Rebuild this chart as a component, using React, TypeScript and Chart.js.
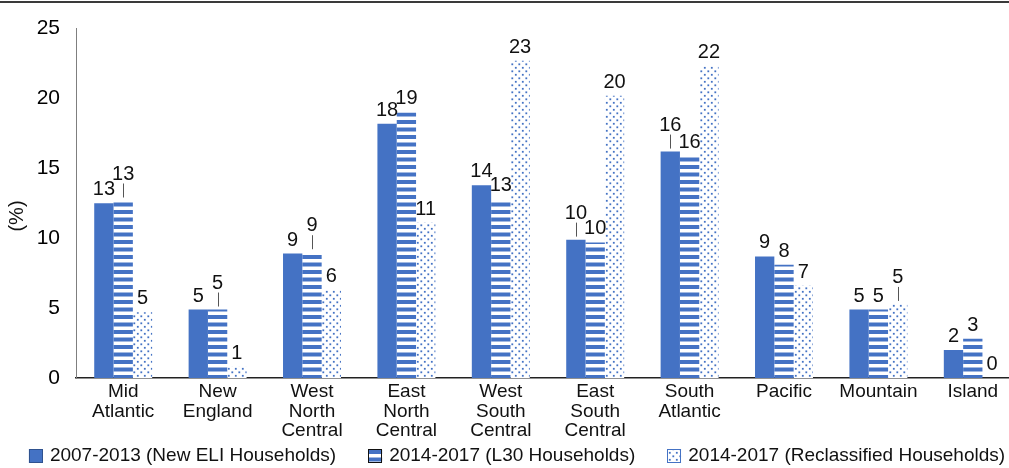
import React, { useEffect, useRef } from "react";
import { Chart, registerables } from "chart.js";

Chart.register(...registerables);

const categories: string[][] = [
  ["Mid", "Atlantic"],
  ["New", "England"],
  ["West", "North", "Central"],
  ["East", "North", "Central"],
  ["West", "South", "Central"],
  ["East", "South", "Central"],
  ["South", "Atlantic"],
  ["Pacific"],
  ["Mountain"],
  ["Island"],
];
const seriesNames = [
  "2007-2013 (New ELI Households)",
  "2014-2017 (L30 Households)",
  "2014-2017 (Reclassified Households)",
];
const eliValues = [12.5, 4.9, 8.9, 18.2, 13.8, 9.9, 16.2, 8.7, 4.9, 2.0];
const l30Values = [12.7, 4.9, 9.0, 19.0, 12.8, 9.7, 15.9, 8.1, 4.9, 2.8];
const reclassValues = [4.7, 0.8, 6.3, 11.1, 22.7, 20.2, 22.3, 6.6, 5.3, 0];
const yTicks = [0, 5, 10, 15, 20, 25];
// labels lifted with a short leader line: [categoryIndex, seriesIndex]
const leaderLabels = [
  [0, 1],
  [1, 1],
  [2, 1],
  [5, 0],
  [6, 0],
  [8, 2],
];

const FONT = "'Liberation Sans', Arial, Helvetica, sans-serif";
const BLUE = "#4472C4";
const TEXT = "#111111";
const LEGEND_STROKE = ["#2F528F", "#111111", BLUE];

function stripePattern(): CanvasPattern | string {
  const c = document.createElement("canvas");
  c.width = 4;
  c.height = 15;
  const g = c.getContext("2d");
  if (!g) return BLUE;
  g.fillStyle = "#ffffff";
  g.fillRect(0, 0, 4, 15);
  g.fillStyle = BLUE;
  g.fillRect(0, 0, 4, 4);
  g.fillRect(0, 7.5, 4, 4);
  return g.createPattern(c, "repeat") || BLUE;
}

function dotPattern(): CanvasPattern | string {
  const c = document.createElement("canvas");
  c.width = 7;
  c.height = 7;
  const g = c.getContext("2d");
  if (!g) return BLUE;
  g.fillStyle = "#ffffff";
  g.fillRect(0, 0, 7, 7);
  g.fillStyle = BLUE;
  g.fillRect(0.4, 0.4, 1.8, 1.8);
  g.fillRect(3.9, 3.9, 1.8, 1.8);
  return g.createPattern(c, "repeat") || BLUE;
}

const topRulePlugin = {
  id: "topRule",
  beforeDraw(chart: any) {
    const ctx = chart.ctx;
    ctx.save();
    ctx.fillStyle = "#3a3a3a";
    ctx.fillRect(0, 1, chart.width, 2);
    ctx.restore();
  },
};

const axisTitlePlugin = {
  id: "axisTitle",
  afterDraw(chart: any) {
    const ctx = chart.ctx;
    ctx.save();
    ctx.translate(17, 216);
    ctx.rotate(-Math.PI / 2);
    ctx.font = `20px ${FONT}`;
    ctx.fillStyle = TEXT;
    ctx.textAlign = "center";
    ctx.textBaseline = "middle";
    ctx.fillText("(%)", 0, 0);
    ctx.restore();
  },
};

const legendPlugin = {
  id: "customLegend",
  afterDraw(chart: any) {
    const ctx = chart.ctx;
    ctx.save();
    ctx.font = `19px ${FONT}`;
    ctx.textBaseline = "middle";
    ctx.textAlign = "left";
    const box = 14;
    const textGap = 7;
    const itemGap = 32;
    const dsets = chart.data.datasets;
    const widths = dsets.map((d: any) => box + textGap + ctx.measureText(d.label).width);
    const total = widths.reduce((a: number, b: number) => a + b, 0) + itemGap * (dsets.length - 1);
    const cy = chart.chartArea.bottom + 78;
    let x = 517 - total / 2;
    dsets.forEach((d: any, i: number) => {
      ctx.fillStyle = d.backgroundColor;
      ctx.fillRect(x, cy - box / 2, box, box);
      ctx.strokeStyle = LEGEND_STROKE[i];
      ctx.lineWidth = 1;
      ctx.strokeRect(Math.round(x) + 0.5, Math.round(cy - box / 2) + 0.5, box - 1, box - 1);
      ctx.fillStyle = TEXT;
      ctx.fillText(d.label, x + box + textGap, cy);
      x += widths[i] + itemGap;
    });
    ctx.restore();
  },
};

const valueLabelPlugin = {
  id: "valueLabels",
  afterDatasetsDraw(chart: any) {
    const ctx = chart.ctx;
    ctx.save();
    ctx.font = `20px ${FONT}`;
    ctx.fillStyle = TEXT;
    ctx.textAlign = "center";
    ctx.textBaseline = "alphabetic";
    ctx.strokeStyle = "#555555";
    ctx.lineWidth = 1;
    chart.data.datasets.forEach((ds: any, di: number) => {
      const meta = chart.getDatasetMeta(di);
      meta.data.forEach((bar: any, i: number) => {
        const v = ds.data[i];
        const lead = leaderLabels.some(([c, s]) => c === i && s === di);
        const gap = lead ? 21 : 8;
        ctx.fillText(String(Math.round(v)), bar.x, bar.y - gap);
        if (lead) {
          ctx.beginPath();
          ctx.moveTo(Math.round(bar.x) + 0.5, bar.y - 17);
          ctx.lineTo(Math.round(bar.x) + 0.5, bar.y - 3);
          ctx.stroke();
        }
      });
    });
    ctx.restore();
  },
};

export default function App() {
  const ref = useRef<HTMLCanvasElement | null>(null);

  useEffect(() => {
    document.body.style.margin = "0";
    const canvas = ref.current;
    if (!canvas) return;
    const stripes = stripePattern();
    const dots = dotPattern();

    const chart = new Chart(canvas, {
      type: "bar",
      data: {
        labels: categories,
        datasets: [
          { label: seriesNames[0], data: eliValues, backgroundColor: BLUE },
          { label: seriesNames[1], data: l30Values, backgroundColor: stripes as any },
          { label: seriesNames[2], data: reclassValues, backgroundColor: dots as any },
        ],
      },
      options: {
        responsive: false,
        animation: false,
        devicePixelRatio: 1,
        layout: { padding: { top: 26, left: 0, right: 0, bottom: 26 } },
        datasets: {
          bar: { categoryPercentage: 0.614, barPercentage: 1, borderWidth: 0 },
        },
        scales: {
          x: {
            grid: { display: false, drawTicks: false },
            border: { display: true, color: "#222222", width: 1.5 },
            ticks: {
              color: TEXT,
              font: { size: 19, family: FONT, lineHeight: 1.03 },
              padding: 4,
              maxRotation: 0,
              autoSkip: false,
            },
            afterFit: (s: any) => {
              s.height = 64;
            },
          },
          y: {
            min: 0,
            max: 25,
            grid: { display: false, drawTicks: false },
            border: { display: true, color: "#7f7f7f", width: 1 },
            ticks: {
              color: "#000000",
              font: { size: 21, family: FONT },
              padding: 16,
            },
            afterBuildTicks: (s: any) => {
              s.ticks = yTicks.map((v) => ({ value: v }));
            },
            afterFit: (s: any) => {
              s.width = 76;
            },
          },
        },
        plugins: {
          legend: { display: false },
          tooltip: { enabled: false },
        },
      } as any,
      plugins: [topRulePlugin, axisTitlePlugin, valueLabelPlugin, legendPlugin],
    });
    return () => chart.destroy();
  }, []);

  return (
    <div style={{ width: 1009, height: 468, overflow: "hidden", position: "relative" }}>
      <canvas ref={ref} width={1020} height={468} style={{ display: "block", width: 1020, height: 468 }} />
    </div>
  );
}
